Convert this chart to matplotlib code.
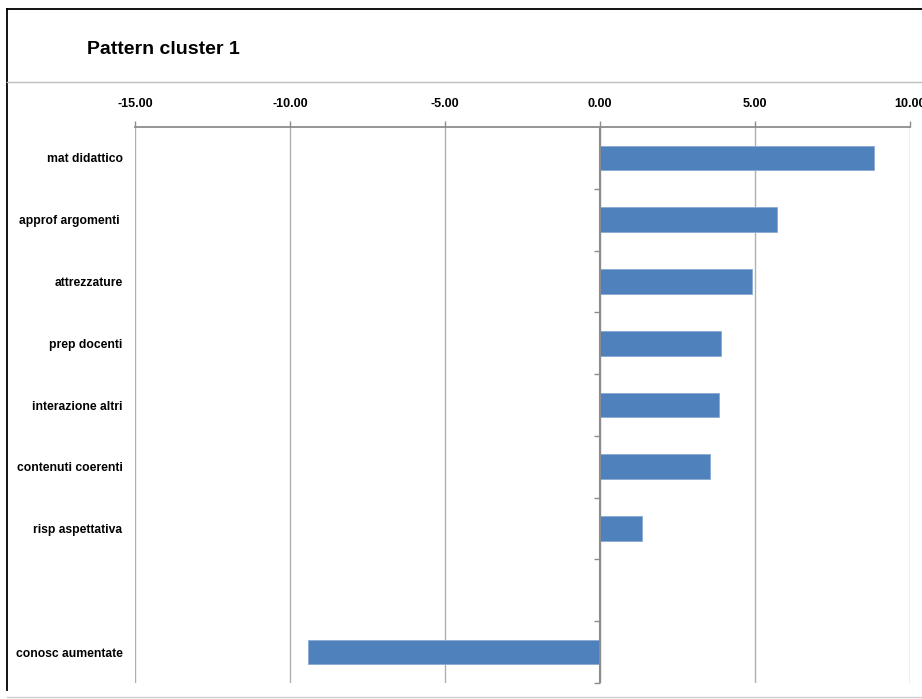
import matplotlib.pyplot as plt
from matplotlib.lines import Line2D

# data (top to bottom, one empty slot before the last bar)
categories = ['mat didattico', 'approf argomenti ', 'attrezzature', 'prep docenti',
              'interazione altri', 'contenuti coerenti', 'risp aspettativa', '',
              'conosc aumentate']
values = [8.85, 5.71, 4.90, 3.91, 3.85, 3.55, 1.37, None, -9.41]
xticks = [-15, -10, -5, 0, 5, 10]

plt.rcParams['font.family'] = ['Liberation Sans', 'DejaVu Sans']

fig = plt.figure(figsize=(9.22, 6.99), dpi=100)
W, H = 922, 699

# frame lines in pixel coords
def fx(p):
    return p / W

def fy(p):
    return 1 - p / H

fig.add_artist(Line2D([fx(7), fx(7)], [fy(9), fy(690)], color='black', lw=1.3))
fig.add_artist(Line2D([fx(7), 1], [fy(9), fy(9)], color='black', lw=1.3))
fig.add_artist(Line2D([fx(7), 1], [fy(82), fy(82)], color='#bdbdbd', lw=1))
fig.add_artist(Line2D([fx(7), 1], [fy(697), fy(697)], color='#cfcfcf', lw=1))

fig.text(fx(87), fy(49), 'Pattern cluster 1', fontsize=14, fontweight='bold',
         ha='left', va='center')

ax = fig.add_axes([fx(135), fy(683), fx(910) - fx(135), (683 - 127) / H])

pos = [i for i, v in enumerate(values) if v is not None]
vals = [v for v in values if v is not None]
ax.barh(pos, vals, height=0.4, color='#4F81BD', edgecolor='#8aaad4', linewidth=0.6, zorder=3)

ax.set_xlim(-15, 10)
ax.set_ylim(len(categories) - 0.5, -0.5)

ax.xaxis.tick_top()
ax.set_xticks(xticks)
ax.set_xticklabels([f'{t:.2f}' for t in xticks], fontsize=9, fontweight='bold')
ax.tick_params(axis='x', direction='out', length=4, width=1, color='#8c8c8c', pad=8)
ax.grid(axis='x', color='#b0b0b0', lw=1, zorder=1)

ax.set_yticks(range(len(categories)))
ax.set_yticklabels(categories, fontsize=8.7, fontweight='bold')
ax.tick_params(axis='y', length=0, pad=9)

for s in ['left', 'right', 'bottom']:
    ax.spines[s].set_visible(False)
ax.spines['top'].set_color('#8c8c8c')
ax.spines['top'].set_linewidth(1.3)

# category axis at zero with boundary ticks
ax.axvline(0, color='#8c8c8c', lw=1.5, zorder=4)
bounds = [i + 0.5 for i in range(len(categories))]
ax.scatter([0] * len(bounds), bounds, marker=0, s=16, color='#8c8c8c', lw=1, zorder=4,
           clip_on=False)

fig.savefig('out.png', dpi=100)
